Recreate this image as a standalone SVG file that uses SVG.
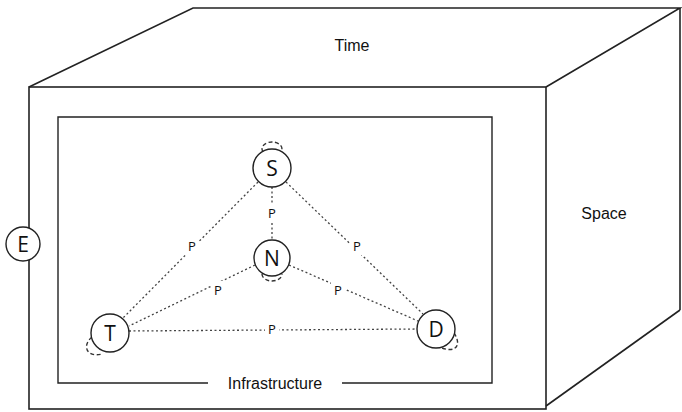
<svg xmlns="http://www.w3.org/2000/svg" width="682" height="412" viewBox="0 0 682 412">
  <style>
    .edge { stroke: #222; stroke-width: 1.6; fill: none; }
    .frame { stroke: #222; stroke-width: 1.4; fill: none; }
    .link { stroke: #444; stroke-width: 1.3; stroke-dasharray: 2 2.5; fill: none; }
    .loop { stroke: #333; stroke-width: 1.4; stroke-dasharray: 4 2.5; fill: none; }
    .node { fill: #fff; stroke: #222; stroke-width: 1.4; }
    .nlabel { font-family: "Open Sans", "Liberation Sans", sans-serif; font-size: 21px; fill: #111; text-anchor: middle; dominant-baseline: central; }
    .plabel { font-family: "Open Sans", "Liberation Sans", sans-serif; font-size: 13px; fill: #111; text-anchor: middle; dominant-baseline: central; }
    .dim { font-family: "Liberation Sans", Arial, sans-serif; font-size: 16px; fill: #111; text-anchor: middle; dominant-baseline: central; }
  </style>

  <!-- cube outline -->
  <g id="cube">
    <rect x="0" y="0" width="682" height="412" fill="#fff"/>
    <polyline class="edge" points="29,87 193,8 680,8 546,87"/>
    <line class="edge" x1="680" y1="8" x2="680" y2="310"/>
    <line class="edge" x1="680" y1="310" x2="546" y2="406"/>
    <rect class="edge" x="29" y="87" width="517" height="322"/>
    <text class="dim" x="352" y="45">Time</text>
    <text class="dim" x="604" y="213">Space</text>
  </g>

  <!-- infrastructure frame -->
  <g id="infrastructure">
    <polyline class="frame" points="208,383 58,383 58,117 492,117 492,383 342,383"/>
    <text class="dim" x="275" y="383">Infrastructure</text>
  </g>

  <!-- dotted relations -->
  <g id="connectors">
    <line class="link" x1="272" y1="187" x2="272" y2="240"/>
    <line class="link" x1="258" y1="182" x2="123" y2="318"/>
    <line class="link" x1="286" y1="182" x2="423" y2="314"/>
    <line class="link" x1="255" y1="265" x2="129" y2="326"/>
    <line class="link" x1="289" y1="265" x2="418" y2="321"/>
    <line class="link" x1="129" y1="331" x2="417" y2="329"/>
    <g fill="#fff">
      <rect x="265" y="204" width="14" height="18"/>
      <rect x="185" y="237" width="14" height="18"/>
      <rect x="350" y="237" width="14" height="18"/>
      <rect x="211" y="281" width="14" height="18"/>
      <rect x="331" y="281" width="14" height="18"/>
      <rect x="265" y="320" width="14" height="18"/>
    </g>
    <text class="plabel" x="272" y="213">P</text>
    <text class="plabel" x="192" y="246">P</text>
    <text class="plabel" x="357" y="246">P</text>
    <text class="plabel" x="218" y="290">P</text>
    <text class="plabel" x="338" y="290">P</text>
    <text class="plabel" x="272" y="329">P</text>
  </g>

  <g id="node-E">
    <circle class="node" cx="23" cy="244" r="17"/>
    <text class="nlabel" x="23" y="244">E</text>
  </g>

  <g id="node-S">
    <path class="loop" d="M 263 152 A 10 7 0 1 1 281 152"/>
    <circle class="node" cx="272" cy="168" r="19"/>
    <text class="nlabel" x="272" y="168">S</text>
  </g>

  <g id="node-N">
    <path class="loop" d="M 262 274 A 10 7 0 1 0 282 274"/>
    <circle class="node" cx="272" cy="258" r="18"/>
    <text class="nlabel" x="272" y="258">N</text>
  </g>

  <g id="node-T">
    <path class="loop" d="M 92 337 C 82 345, 86 358, 102 354"/>
    <circle class="node" cx="110" cy="333" r="19"/>
    <text class="nlabel" x="110" y="333">T</text>
  </g>

  <g id="node-D">
    <path class="loop" d="M 454 333 C 462 345, 456 353, 442 348"/>
    <circle class="node" cx="436" cy="329" r="19"/>
    <text class="nlabel" x="436" y="329">D</text>
  </g>
</svg>
